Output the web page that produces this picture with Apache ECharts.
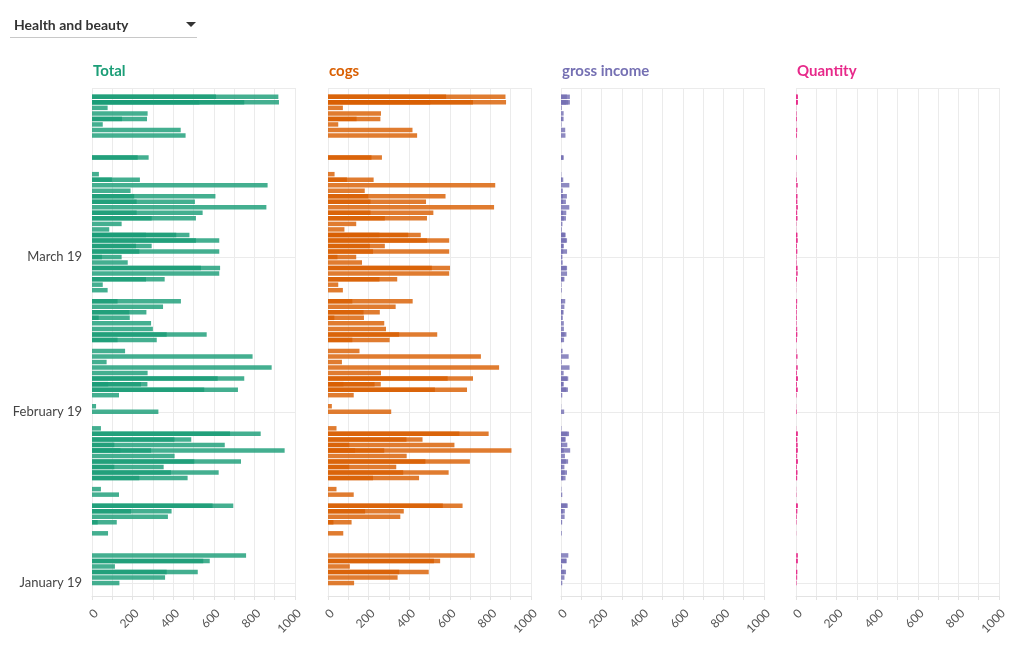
<!DOCTYPE html>
<html>
<head>
<meta charset="utf-8">
<script src="https://cdn.jsdelivr.net/npm/echarts@6/dist/echarts.min.js"></script>
<style>
  html, body { margin: 0; padding: 0; background: #fff; }
  #wrap { position: relative; width: 1020px; height: 650px; }
  #chart { position: absolute; left: 0; top: 0; width: 1020px; height: 650px; }
  #dropdown {
    position: absolute; left: 10px; top: 13px; width: 187px; height: 24px;
    border-bottom: 1px solid #c8c8c8; font-family: Lato, sans-serif;
    font-weight: bold; font-size: 14px; color: #333; z-index: 2;
  }
  #dropdown .txt { position: absolute; left: 4px; top: 3px; }
  #dropdown .arrow {
    position: absolute; left: 176px; top: 9px; width: 0; height: 0;
    border-left: 5px solid transparent; border-right: 5px solid transparent;
    border-top: 5px solid #333;
  }
</style>
</head>
<body>
<div id="wrap">
  <div id="chart"></div>
  <div id="dropdown"><span class="txt">Health and beauty</span><span class="arrow"></span></div>
</div>
<script>
// ---- data (one entry per transaction, Health and beauty) ----
const dates = [
  '2019-01-01','2019-01-02','2019-01-03','2019-01-03','2019-01-04','2019-01-05','2019-01-05','2019-01-06',
  '2019-01-10','2019-01-12','2019-01-12','2019-01-13','2019-01-14','2019-01-14','2019-01-15','2019-01-15',
  '2019-01-17','2019-01-18','2019-01-20','2019-01-20','2019-01-21','2019-01-21','2019-01-22','2019-01-22',
  '2019-01-23','2019-01-23','2019-01-24','2019-01-25','2019-01-25','2019-01-25','2019-01-26','2019-01-26',
  '2019-01-27','2019-01-27','2019-01-28','2019-01-28','2019-01-29',
  '2019-02-01','2019-02-02','2019-02-04','2019-02-05','2019-02-05','2019-02-06','2019-02-06','2019-02-06',
  '2019-02-07','2019-02-07','2019-02-08','2019-02-09','2019-02-10','2019-02-11','2019-02-12','2019-02-14',
  '2019-02-14','2019-02-15','2019-02-15','2019-02-16','2019-02-17','2019-02-18','2019-02-18','2019-02-19',
  '2019-02-19','2019-02-20','2019-02-21','2019-02-21','2019-02-23','2019-02-24','2019-02-25','2019-02-25',
  '2019-02-26','2019-02-27','2019-02-27','2019-02-28',
  '2019-03-01','2019-03-01','2019-03-02','2019-03-02','2019-03-03','2019-03-03','2019-03-04','2019-03-04',
  '2019-03-05','2019-03-05','2019-03-05','2019-03-06','2019-03-07','2019-03-08','2019-03-08','2019-03-09',
  '2019-03-09','2019-03-10','2019-03-11','2019-03-11','2019-03-12','2019-03-12','2019-03-13','2019-03-14',
  '2019-03-15','2019-03-15','2019-03-16','2019-03-19','2019-03-19','2019-03-23','2019-03-24','2019-03-25',
  '2019-03-26','2019-03-26','2019-03-27','2019-03-28','2019-03-29','2019-03-29','2019-03-29','2019-03-30',
  '2019-03-30'
];
const total = [
  135,360,368,521,113,548,580,759,
  79,28,122,374,192,392,594,696,
  133,44,233,471,389,624,110,353,
  504,734,407,140,291,949,110,654,
  406,489,680,831,44,
  327,20,133,553,719,80,241,273,
  619,750,274,885,72,791,163,126,
  319,368,565,300,291,33,186,184,
  268,350,126,438,77,53,266,358,
  627,537,631,176,
  49,146,233,627,217,294,512,627,
  266,415,480,85,146,294,512,220,
  545,859,220,507,208,608,190,865,
  98,236,34,225,279,461,437,53,
  148,271,274,77,529,750,921,611,
  918
];
const cogs = [
  128.6,342.9,350.5,496.2,107.6,521.9,552.4,722.9,
  75.2,26.7,116.2,356.2,182.9,373.3,565.7,662.9,
  126.7,41.9,221.9,448.6,370.5,594.3,104.8,336.2,
  480.0,699.0,387.6,133.3,277.1,903.8,104.8,622.9,
  386.7,465.7,647.6,791.4,41.9,
  311.4,19.0,126.7,526.7,684.8,76.2,229.5,260.0,
  589.5,714.3,261.0,842.9,68.6,753.3,155.2,120.0,
  303.8,350.5,538.1,285.7,277.1,31.4,177.1,175.2,
  255.2,333.3,120.0,417.1,73.3,50.5,253.3,341.0,
  597.1,511.4,601.0,167.6,
  46.7,139.0,221.9,597.1,206.7,280.0,487.6,597.1,
  253.3,395.2,457.1,81.0,139.0,280.0,487.6,209.5,
  519.0,818.1,209.5,482.9,198.1,579.0,181.0,823.8,
  93.3,224.8,32.4,214.3,265.7,439.0,416.2,50.5,
  141.0,258.1,261.0,73.3,503.8,714.3,877.1,581.9,
  874.3
];
const grossIncome = [
  6.4,17.1,17.5,24.8,5.4,26.1,27.6,36.1,
  3.8,1.3,5.8,17.8,9.1,18.7,28.3,33.1,
  6.3,2.1,11.1,22.4,18.5,29.7,5.2,16.8,
  24.0,35.0,19.4,6.7,13.9,45.2,5.2,31.1,
  19.3,23.3,32.4,39.6,2.1,
  15.6,1.0,6.3,26.3,34.2,3.8,11.5,13.0,
  29.5,35.7,13.0,42.1,3.4,37.7,7.8,6.0,
  15.2,17.5,26.9,14.3,13.9,1.6,8.9,8.8,
  12.8,16.7,6.0,20.9,3.7,2.5,12.7,17.0,
  29.9,25.6,30.0,8.4,
  2.3,7.0,11.1,29.9,10.3,14.0,24.4,29.9,
  12.7,19.8,22.9,4.0,7.0,14.0,24.4,10.5,
  26.0,40.9,10.5,24.1,9.9,29.0,9.0,41.2,
  4.7,11.2,1.6,10.7,13.3,22.0,20.8,2.5,
  7.0,12.9,13.0,3.7,25.2,35.7,43.9,29.1,
  43.7
];
const quantity = [
  3,6,5,7,2,8,9,10,
  1,1,2,4,3,7,6,10,
  2,1,4,6,5,8,2,4,
  7,10,6,2,5,10,3,9,
  5,7,8,9,1,
  4,1,3,6,9,1,4,3,
  7,10,5,9,1,8,2,2,
  4,5,7,6,3,1,4,2,
  3,5,2,6,1,1,4,5,
  9,6,8,3,
  1,2,3,7,3,4,6,9,
  5,6,7,1,2,4,8,3,
  6,10,3,7,4,8,2,9,
  2,3,1,3,4,5,6,1,
  2,4,3,1,6,8,10,7,
  10
];
const monthNames = ['January','February','March','April','May','June','July','August','September','October','November','December'];
const panelNames = ['Total','cogs','gross income','Quantity'];
const panelColors = ['#1b9e77','#d95f02','#7570b3','#e7298a'];
const xTickLabels = ['0','200','400','600','800','1000'];

function toTs(s) { const p = s.split('-').map(Number); return new Date(p[0], p[1]-1, p[2]).getTime(); }
const values = [total, cogs, grossIncome, quantity];
const panelLeft = [92, 328, 561, 796];
const gridTop = 88, gridBottom = 54, gridWidth = 203;
// axis extent (ECharts widens a bar-bearing time axis by about half a bar on each side)
const yMin = new Date(2018, 11, 30, 1, 30).getTime();
const yMax = new Date(2019, 2, 31, 4, 30).getTime();
const FONT = 'Lato, sans-serif';

const grids = [], xAxes = [], yAxes = [], series = [], titles = [];
for (let i = 0; i < 4; i++) {
  grids.push({ left: panelLeft[i], top: gridTop, width: gridWidth, bottom: gridBottom, containLabel: false });
  titles.push({ text: panelNames[i], left: panelLeft[i] + 1, top: 64, padding: 0,
    textStyle: { color: panelColors[i], fontSize: 15, fontWeight: 'bold', fontFamily: FONT } });
  xAxes.push({
    type: 'value', gridIndex: i, min: 0, max: 1000, interval: 100,
    axisLine: { show: true, lineStyle: { color: '#e3e3e3' } },
    axisTick: { show: true, length: 4, lineStyle: { color: '#e3e3e3' } },
    splitLine: { show: true, lineStyle: { color: '#ebebeb' } },
    axisLabel: {
      rotate: 45, margin: 11, verticalAlign: 'top', color: '#555', fontSize: 12, fontFamily: FONT,
      formatter: v => xTickLabels.indexOf(String(v)) >= 0 ? String(v) : ''
    }
  });
  yAxes.push({
    type: 'time', gridIndex: i, min: yMin, max: yMax,
    minInterval: 28 * 864e5, maxInterval: 31 * 864e5,
    axisLine: { show: false }, axisTick: { show: false },
    splitLine: { show: true, lineStyle: { color: '#ebebeb' } },
    axisLabel: {
      show: i === 0, color: '#444', fontSize: 13, fontFamily: FONT, margin: 10,
      formatter: v => { const d = new Date(v); return monthNames[d.getMonth()] + ' ' + String(d.getFullYear()).slice(2); }
    }
  });
  series.push({
    type: 'bar', xAxisIndex: i, yAxisIndex: i, barWidth: 4.5,
    itemStyle: { color: panelColors[i], opacity: 0.82 },
    data: dates.map((d, k) => [values[i][k], toTs(d)]),
    animation: false
  });
}

const chart = echarts.init(document.getElementById('chart'), null, { renderer: 'canvas' });
chart.setOption({
  animation: false,
  textStyle: { fontFamily: FONT },
  title: titles,
  grid: grids,
  xAxis: xAxes,
  yAxis: yAxes,
  series: series
});
</script>
</body>
</html>
